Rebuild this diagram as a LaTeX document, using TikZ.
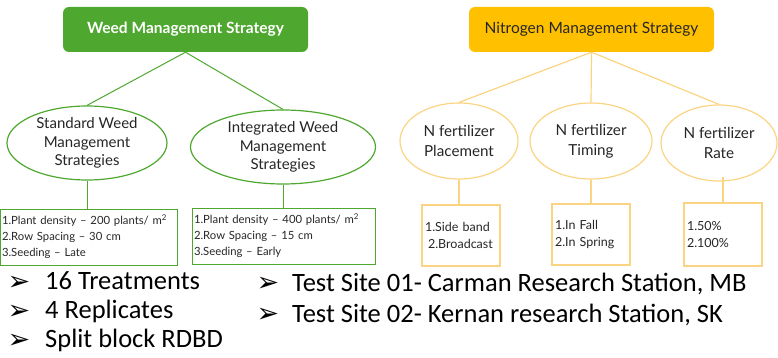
\documentclass[tikz,border=0pt]{standalone}
\usepackage{fontspec}
\setmainfont{Lato}
\newfontfamily\bulletfont{Carlito}
\newfontfamily\symfont{DejaVu Sans}
\usetikzlibrary{shapes.geometric}

\definecolor{weedgreen}{RGB}{78,167,46}
\definecolor{nitroyellow}{RGB}{255,192,0}
\definecolor{nitroline}{RGB}{250,212,130}

\tikzset{
  topbox/.style={rectangle,rounded corners=6pt,minimum width=245pt,minimum height=45pt,inner sep=0pt},
  wellipse/.style={ellipse,draw=weedgreen,line width=1.2pt,inner sep=0pt,align=center,
    text=black!85,font=\fontsize{15}{18.5}\selectfont},
  nellipse/.style={ellipse,draw=nitroline,line width=1.2pt,inner sep=0pt,align=center,
    minimum width=118pt,minimum height=76pt,text=black!85,font=\fontsize{15.2}{20}\selectfont},
  wlist/.style={rectangle,draw=weedgreen,line width=1pt,inner xsep=2pt,inner ysep=0pt,
    align=left,minimum height=56pt,text=black!85,font=\fontsize{11.3}{16}\selectfont},
  nlist/.style={rectangle,draw=nitroline,line width=1.2pt,inner xsep=3pt,inner ysep=0pt,
    align=left,text width=72pt,minimum height=61pt,text=black!85,font=\fontsize{12.5}{16.5}\selectfont},
  wline/.style={draw=weedgreen,line width=1pt},
  nline/.style={draw=nitroline,line width=1.2pt},
  bullet/.style={anchor=base west,inner sep=0pt,font=\bulletfont\fontsize{26.5}{30}\selectfont},
  arrowhd/.style={anchor=center,inner sep=0pt,font=\symfont\fontsize{27}{30}\selectfont}
}

\begin{document}
\begin{tikzpicture}[x=1pt,y=-1pt]
  \useasboundingbox (0,0) rectangle (778,358);

  % weed side
  \node[topbox,fill=weedgreen,text=white,font=\bfseries\fontsize{15.5}{18}\selectfont] (weed) at (185.5,29.5) {Weed Management Strategy};
  \node[wellipse,minimum width=160pt,minimum height=74pt] (std) at (87,143) {Standard Weed\\Management\\Strategies};
  \node[wellipse,minimum width=185pt,minimum height=74pt] (int) at (283,147) {Integrated Weed\\Management\\Strategies};
  \node[wlist,text width=173pt] (stdlist) at (88.5,237) {1.Plant density -- 200 plants/ m\textsuperscript{2}\\2.Row Spacing -- 30 cm\\3.Seeding -- Late};
  \node[wlist,text width=179pt] (intlist) at (283.5,236) {1.Plant density -- 400 plants/ m\textsuperscript{2}\\2.Row Spacing -- 15 cm\\3.Seeding -- Early};
  \draw[wline] (weed.south) -- (std.north);
  \draw[wline] (weed.south) -- (int.north);
  \draw[wline] (std.south) -- (std.south |- stdlist.north);
  \draw[wline] (int.south) -- (int.south |- intlist.north);

  % nitrogen side
  \node[topbox,fill=nitroyellow,text=black!85,font=\fontsize{15.5}{18}\selectfont] (nitro) at (591.5,29.5) {Nitrogen Management Strategy};
  \node[nellipse] (npl) at (459,141) {N fertilizer\\Placement};
  \node[nellipse,minimum width=122pt] (ntm) at (591,141) {N fertilizer\\Timing};
  \node[nellipse,minimum width=116pt] (nrt) at (719,143) {N fertilizer\\Rate};
  \node[nlist] (npllist) at (461,235.5) {1.Side band\\\hspace*{3pt}2.Broadcast};
  \node[nlist] (ntmlist) at (591,234.5) {1.In Fall\\2.In Spring};
  \node[nlist,minimum height=63pt] (nrtlist) at (723,234.5) {1.50\%\\2.100\%};
  \draw[nline] (nitro.south) -- (npl.north);
  \draw[nline] (nitro.south) -- (ntm.north);
  \draw[nline] (nitro.south) -- (nrt.north);
  \draw[nline] (npl.south) -- (npl.south |- npllist.north);
  \draw[nline] (ntm.south) -- (ntm.south |- ntmlist.north);
  \draw[nline] (nrtlist.north) ++(0,-25) coordinate (nrtdrop) -- (nrtlist.north);

  % notes below
  \node[arrowhd] (a1) at (19,283) {➢};
  \node[bullet] (b1) at (45,289) {16 Treatments};
  \node[arrowhd] (a2) at (19,312) {➢};
  \node[bullet] (b2) at (45,318) {4 Replicates};
  \node[arrowhd] (a3) at (19,341) {➢};
  \node[bullet] (b3) at (45,347) {Split block RDBD};
  \node[arrowhd] (a4) at (268,284) {➢};
  \node[bullet] (b4) at (292,291) {Test Site 01- Carman Research Station, MB};
  \node[arrowhd] (a5) at (268,315) {➢};
  \node[bullet] (b5) at (292,322) {Test Site 02- Kernan research Station, SK};
\end{tikzpicture}
\end{document}
